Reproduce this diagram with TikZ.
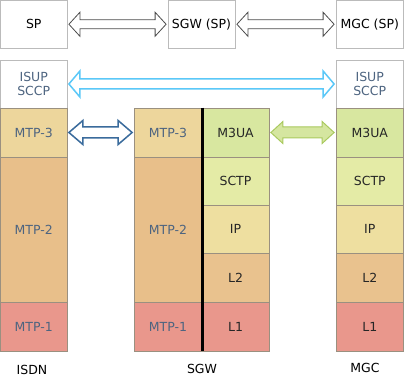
\documentclass[tikz,border=0pt]{standalone}
\usepackage{fontspec}
\setmainfont{DejaVu Sans}
\usetikzlibrary{calc}
\definecolor{mtpthree}{HTML}{EDD69C}
\definecolor{mtptwo}{HTML}{E8BF8A}
\definecolor{mtpone}{HTML}{E9978C}
\definecolor{mthreeua}{HTML}{D8E7A0}
\definecolor{sctpc}{HTML}{E4EBA6}
\definecolor{ipc}{HTML}{EEDFA0}
\definecolor{ltwo}{HTML}{E9C28E}
\definecolor{lone}{HTML}{E9978C}
\definecolor{rowline}{HTML}{9A9080}
\definecolor{boxline}{HTML}{BBBBBB}
\definecolor{bluegray}{HTML}{4D6480}
\definecolor{lblue}{HTML}{5BC8F8}
\definecolor{dblue}{HTML}{3A6B9C}
\definecolor{gfill}{HTML}{D5E6A0}
\definecolor{gline}{HTML}{A9C95E}
\tikzset{
  layer/.style={draw=rowline, line width=0.8pt, inner sep=0pt, align=center,
    font=\fontsize{12.5}{13.5}\selectfont},
  topbox/.style={layer, draw=boxline, fill=white, text=black},
  isup/.style={layer, draw=boxline, fill=white, text=bluegray},
  oldtxt/.style={text=bluegray},
  newtxt/.style={text=black!85},
  grayarrow/.style={draw=black!70, fill=white, line width=0.8pt, line join=miter},
  bluearrow/.style={draw=lblue, fill=white, line width=1.5pt, line join=miter},
  darkarrow/.style={draw=dblue, fill=white, line width=1.5pt, line join=miter},
  greenarrow/.style={draw=gline, fill=gfill, line width=1pt, line join=miter},
  caption/.style={font=\fontsize{12.5}{13.5}\selectfont, text=black}
}
% name, x1, y1, x2, y2, style, text
\newcommand\lay[7]{\node[layer,#6,minimum width={(#4-#2)*1pt},minimum height={(#5-#3)*1pt}] (#1) at ({(#2+#4)/2},{(#3+#5)/2}) {#7};}
% style, from, to, half shaft, half head, head length
\newcommand\blockarrow[6]{%
  \path[#1] let \p1=($(#2)+(1.5pt,0)$), \p2=($(#3)-(1.5pt,0)$) in
  (\x1,\y1) -- (\x1+#6,\y1+#5) -- (\x1+#6,\y1+#4) -- (\x2-#6,\y1+#4) -- (\x2-#6,\y1+#5)
  -- (\x2,\y1) -- (\x2-#6,\y1-#5) -- (\x2-#6,\y1-#4) -- (\x1+#6,\y1-#4) -- (\x1+#6,\y1-#5) -- cycle;}
\begin{document}
\begin{tikzpicture}[x=1pt,y=-1pt]
\useasboundingbox (0,0) rectangle (404,390);
% top row
\lay{sp}{0.5}{0.5}{67}{48}{topbox}{SP}
\lay{sgwsp}{168}{0.5}{235}{48}{topbox}{SGW (SP)}
\lay{mgcsp}{336}{0.5}{403.5}{48}{topbox}{MGC (SP)}
% ISDN stack
\lay{iisup}{0.5}{60}{67}{108}{isup}{ISUP\\SCCP}
\lay{ithree}{0.5}{108}{67}{157}{fill=mtpthree,oldtxt}{MTP-3}
\lay{itwo}{0.5}{157}{67}{302}{fill=mtptwo,oldtxt}{MTP-2}
\lay{ione}{0.5}{302}{67}{351}{fill=mtpone,oldtxt}{MTP-1}
% SGW stack
\lay{sthree}{134}{108}{202}{157}{fill=mtpthree,oldtxt}{MTP-3}
\lay{stwo}{134}{157}{202}{302}{fill=mtptwo,oldtxt}{MTP-2}
\lay{sone}{134}{302}{202}{351}{fill=mtpone,oldtxt}{MTP-1}
\lay{sm3ua}{202}{108}{269}{157}{fill=mthreeua,newtxt}{M3UA}
\lay{ssctp}{202}{157}{269}{205}{fill=sctpc,newtxt}{SCTP}
\lay{sip}{202}{205}{269}{253}{fill=ipc,newtxt}{IP}
\lay{sltwo}{202}{253}{269}{302}{fill=ltwo,newtxt}{L2}
\lay{slone}{202}{302}{269}{351}{fill=lone,newtxt}{L1}
\draw[line width=2.2pt,black] (sthree.north east) -- (sone.south east);
% MGC stack
\lay{misup}{336}{60}{403.5}{108}{isup}{ISUP\\SCCP}
\lay{mm3ua}{336}{108}{403.5}{157}{fill=mthreeua,newtxt}{M3UA}
\lay{msctp}{336}{157}{403.5}{205}{fill=sctpc,newtxt}{SCTP}
\lay{mip}{336}{205}{403.5}{253}{fill=ipc,newtxt}{IP}
\lay{mltwo}{336}{253}{403.5}{302}{fill=ltwo,newtxt}{L2}
\lay{mlone}{336}{302}{403.5}{351}{fill=lone,newtxt}{L1}
% captions
\node[caption] (cisdn) at (32,370) {ISDN};
\node[caption] (csgw) at (202,369) {SGW};
\node[caption] (cmgc) at (365,368) {MGC};
% arrows
\blockarrow{grayarrow}{sp.east}{sgwsp.west}{4.5pt}{12pt}{11pt}
\blockarrow{grayarrow}{sgwsp.east}{mgcsp.west}{4.5pt}{12pt}{11pt}
\blockarrow{bluearrow}{iisup.east}{misup.west}{5pt}{13pt}{11pt}
\blockarrow{darkarrow}{ithree.east}{sthree.west}{5.5pt}{12pt}{14pt}
\blockarrow{greenarrow}{sm3ua.east}{mm3ua.west}{5.5pt}{11pt}{12pt}
\end{tikzpicture}
\end{document}
